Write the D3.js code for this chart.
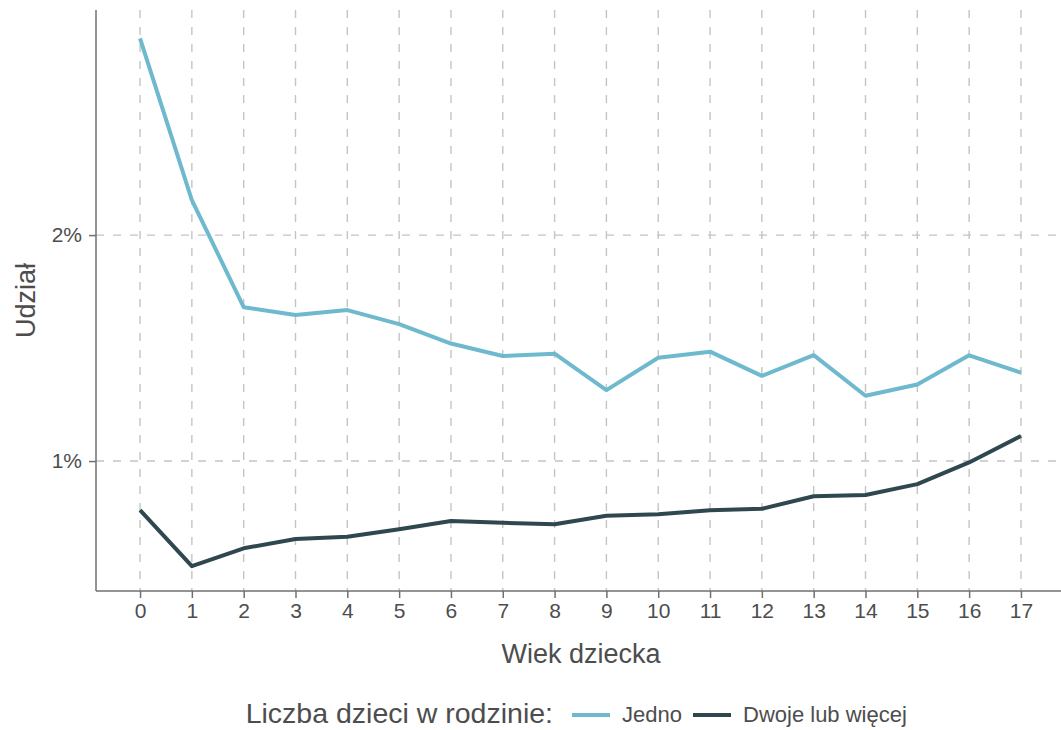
<!DOCTYPE html>
<html lang="pl">
<head>
<meta charset="UTF-8">
<title>Udział wg wieku dziecka</title>
<script src="https://cdn.jsdelivr.net/npm/d3@7"></script>
<style>
    body { margin: 0; background: #fff; }
    svg { font-family: "Liberation Sans", Arial, sans-serif; }
    .grid line { stroke: #c4c4c4; stroke-width: 1.4; stroke-dasharray: 8,9; }
    .axis path, .axis line { stroke: #707070; stroke-width: 1.5; }
    .axis text { fill: #4d4d4d; font-size: 21px; }
</style>
</head>
<body>
<svg width="1061" height="730"></svg>
<script>
    // wiek dziecka 0..17
    var ages = [0,1,2,3,4,5,6,7,8,9,10,11,12,13,14,15,16,17];
    // udział w procentach
    var jedno = [2.87,2.155,1.681,1.646,1.668,1.606,1.52,1.465,1.475,1.314,1.457,1.484,1.377,1.469,1.289,1.339,1.468,1.391];
    var dwoje = [0.783,0.535,0.614,0.655,0.665,0.698,0.735,0.727,0.72,0.758,0.765,0.782,0.789,0.844,0.85,0.898,0.994,1.111];
    var seriesNames = ["Jedno", "Dwoje lub więcej"];
    var seriesColors = ["#6fb9cf", "#2f474f"];
    var yTicks = [1, 2];
    var yDomain = [0.425, 2.996];

    var svg = d3.select("svg");
    var pLeft = 96, pRight = 1065, pTop = 10, pBottom = 591;

    var x = d3.scaleLinear().domain([-0.85, 17.85]).range([pLeft, pRight]);
    var y = d3.scaleLinear().domain(yDomain).range([pBottom, pTop]);

    // siatka
    var grid = svg.append("g").attr("class", "grid");
    grid.selectAll(".gx").data(ages).enter().append("line")
        .attr("x1", function(d){ return x(d); }).attr("x2", function(d){ return x(d); })
        .attr("y1", pTop).attr("y2", pBottom);
    grid.selectAll(".gy").data(yTicks).enter().append("line")
        .attr("x1", pLeft).attr("x2", pRight)
        .attr("y1", function(d){ return y(d); }).attr("y2", function(d){ return y(d); });

    // osie
    var xAxis = svg.append("g").attr("class", "axis")
        .attr("transform", "translate(0," + pBottom + ")")
        .call(d3.axisBottom(x).tickValues(ages).tickSize(7).tickPadding(5).tickSizeOuter(0));
    var yAxis = svg.append("g").attr("class", "axis")
        .attr("transform", "translate(" + pLeft + ",0)")
        .call(d3.axisLeft(y).tickValues(yTicks).tickSize(7).tickPadding(7).tickSizeOuter(0)
            .tickFormat(function(d){ return d + "%"; }));
    xAxis.select(".domain").attr("d", "M" + pLeft + ",0H" + pRight);
    yAxis.select(".domain").attr("d", "M0," + pTop + "V" + pBottom);

    // linie
    var line = d3.line()
        .x(function(d, i){ return x(ages[i]); })
        .y(function(d){ return y(d); });
    [jedno, dwoje].forEach(function(s, i){
        svg.append("path")
            .datum(s)
            .attr("d", line)
            .attr("fill", "none")
            .attr("stroke", seriesColors[i])
            .attr("stroke-width", 4)
            .attr("stroke-linejoin", "round");
    });

    // tytuły osi
    svg.append("text")
        .attr("x", 581).attr("y", 663)
        .attr("text-anchor", "middle")
        .style("font-size", "27px").style("fill", "#4d4d4d")
        .text("Wiek dziecka");
    svg.append("text")
        .attr("transform", "translate(35," + ((pTop + pBottom) / 2) + ") rotate(-90)")
        .attr("text-anchor", "middle")
        .style("font-size", "27px").style("fill", "#4d4d4d")
        .text("Udział");

    // legenda
    var leg = svg.append("g").attr("transform", "translate(0,715)");
    leg.append("text").attr("x", 553).attr("y", 8).attr("text-anchor", "end")
        .style("font-size", "28.5px").style("fill", "#4d4d4d")
        .text("Liczba dzieci w rodzinie:");
    var keyX = [572, 693];
    seriesNames.forEach(function(n, i){
        leg.append("line")
            .attr("x1", keyX[i]).attr("x2", keyX[i] + 38)
            .attr("y1", 0).attr("y2", 0)
            .attr("stroke", seriesColors[i]).attr("stroke-width", 4);
        leg.append("text").attr("x", keyX[i] + 50).attr("y", 7)
            .style("font-size", "22px").style("fill", "#4d4d4d")
            .text(n);
    });
</script>
</body>
</html>
